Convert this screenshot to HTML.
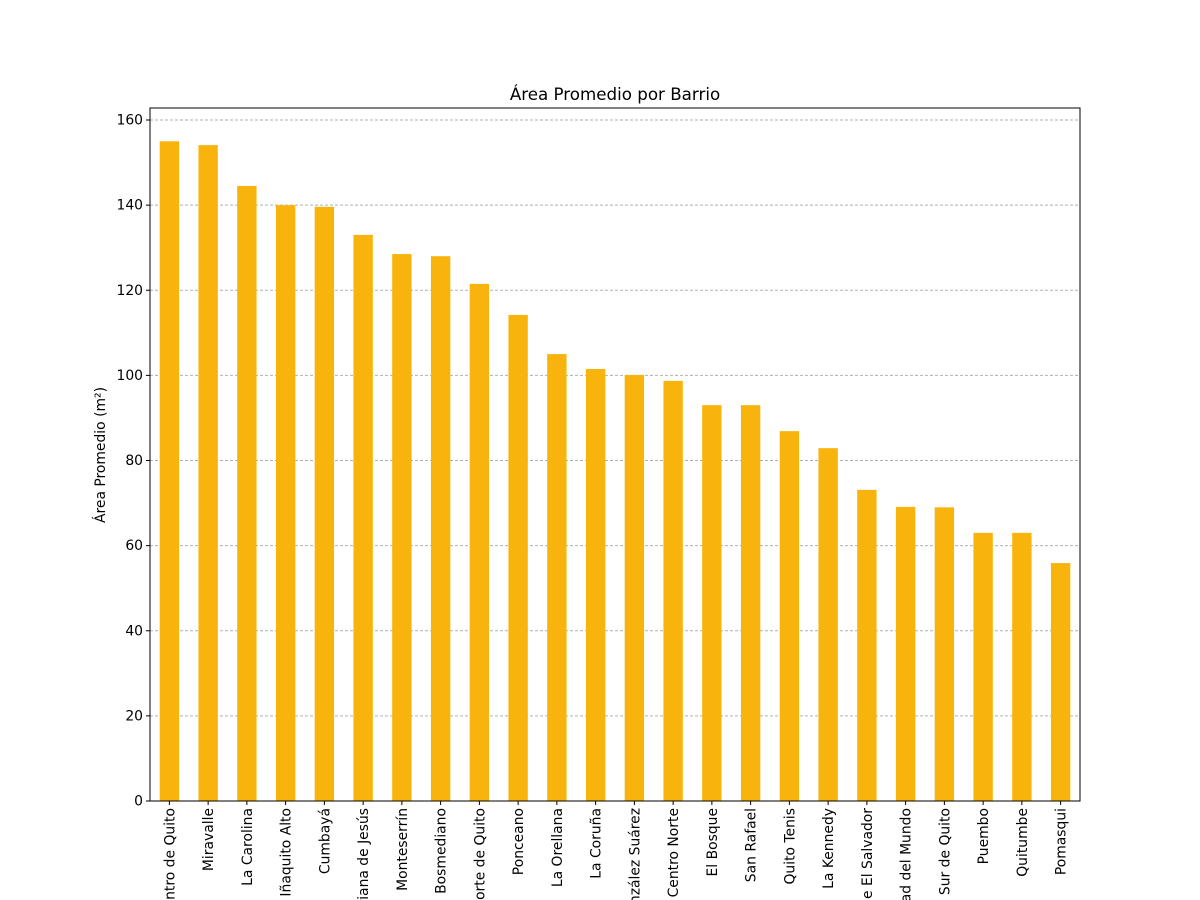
<!DOCTYPE html>
<html><head><meta charset="utf-8"><style>body{margin:0;background:#fff}svg{display:block;font-family:"DejaVu Sans","Liberation Sans",sans-serif}</style></head>
<body>
<svg id="chart" width="1200" height="900">
<text x="615" y="100" text-anchor="middle" font-size="16.7">Área Promedio por Barrio</text>
<g id="grid"></g><g id="bars"></g><g id="yaxis"></g><g id="xaxis"></g>
<rect x="150" y="108" width="930" height="693" fill="none" stroke="#000" stroke-width="1"/>
<text transform="translate(105,455) rotate(-90)" text-anchor="middle" font-size="13.9">Área Promedio (m²)</text>
</svg>
<script>
const categories=["Centro de Quito","Miravalle","La Carolina","Iñaquito Alto","Cumbayá","Mariana de Jesús","Monteserrín","Bosmediano","Norte de Quito","Ponceano","La Orellana","La Coruña","González Suárez","Centro Norte","El Bosque","San Rafael","Quito Tenis","La Kennedy","Valle El Salvador","Ciudad del Mundo","Sur de Quito","Puembo","Quitumbe","Pomasqui"];
const values=[155,154.1,144.5,140,139.6,133,128.5,128,121.5,114.2,105,101.5,100.1,98.7,93,93,86.9,82.9,73.1,69.1,69,63,63,55.9];
const yTicks=[0,20,40,60,80,100,120,140,160];
const NS="http://www.w3.org/2000/svg";
const L=150,R=1080,B=801,T=108;
const y=v=>B-v*(681/160);
const step=(R-L)/categories.length;
const x=i=>L+step*(i+0.5);
function mk(t,a,p){const e=document.createElementNS(NS,t);for(const k in a)e.setAttribute(k,a[k]);p.appendChild(e);return e;}
const g=document.getElementById('grid'),yb=document.getElementById('yaxis'),xb=document.getElementById('xaxis'),bb=document.getElementById('bars');
yTicks.forEach(v=>{
 const gl=mk('line',{x1:L,x2:R,y1:y(v),y2:y(v),stroke:'#b0b0b0','stroke-dasharray':'3,2'},g);
 
 
 mk('line',{x1:L-4,x2:L,y1:y(v),y2:y(v),stroke:'#000'},yb);
 const t=mk('text',{x:L-7,y:y(v)+4.5,'text-anchor':'end','font-size':13.9},yb);
 t.textContent=v;
 
 
});
categories.forEach((c,i)=>{
 const r=mk('rect',{x:x(i)-step/4,width:step/2,y:y(values[i]),height:B-y(values[i]),fill:'#f8b40c'},bb);
 
 
 mk('line',{x1:x(i),x2:x(i),y1:B,y2:B+4,stroke:'#000'},xb);
 const t=mk('text',{transform:`translate(${x(i)+5},${B+7}) rotate(-90)`,'text-anchor':'end','font-size':13.9},xb);
 t.textContent=c;
 
 
});
</script>
</body></html>
